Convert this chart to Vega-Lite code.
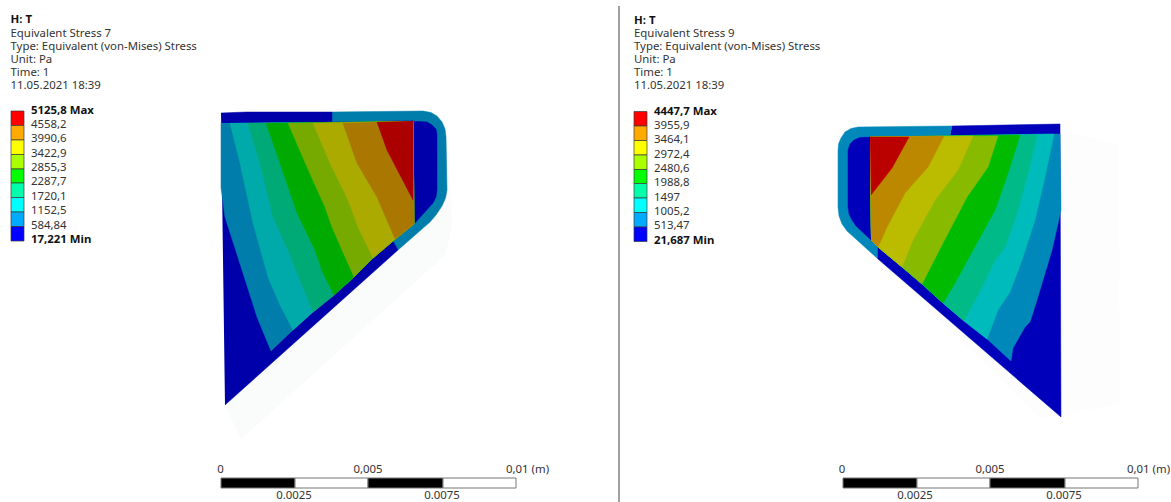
{"$schema":"https://vega.github.io/schema/vega-lite/v6.json","width":1171,"height":502,"padding":0,"autosize":{"type":"none"},"background":"white","view":{"stroke":null},
"datasets":{
"polys":[
{"p":"Lshadow","x":225,"y":405},{"p":"Lshadow","x":241,"y":439},{"p":"Lshadow","x":445,"y":255},{"p":"Lshadow","x":452,"y":225},{"p":"Lshadow","x":447,"y":135},
{"p":"Lshell","x":332,"y":112},{"p":"Lshell","x":423,"y":111},{"p":"Lshell","x":431,"y":112.5},{"p":"Lshell","x":437,"y":116},{"p":"Lshell","x":442,"y":122},{"p":"Lshell","x":445,"y":129},{"p":"Lshell","x":446,"y":137},{"p":"Lshell","x":447,"y":190},{"p":"Lshell","x":445.5,"y":198},{"p":"Lshell","x":442,"y":206},{"p":"Lshell","x":436,"y":215},{"p":"Lshell","x":430,"y":222},{"p":"Lshell","x":398,"y":250},{"p":"Lshell","x":393,"y":241},{"p":"Lshell","x":332,"y":122},
{"p":"Lpocket","x":411,"y":121},{"p":"Lpocket","x":427,"y":122},{"p":"Lpocket","x":432,"y":125},{"p":"Lpocket","x":436,"y":129},{"p":"Lpocket","x":437,"y":135},{"p":"Lpocket","x":437,"y":190},{"p":"Lpocket","x":436,"y":197},{"p":"Lpocket","x":433,"y":203},{"p":"Lpocket","x":414,"y":224},{"p":"Lpocket","x":411,"y":224},
{"p":"Lbase","x":221,"y":113},{"p":"Lbase","x":246,"y":112},{"p":"Lbase","x":332,"y":112},{"p":"Lbase","x":332,"y":122},{"p":"Lbase","x":413,"y":121},{"p":"Lbase","x":414,"y":224},{"p":"Lbase","x":393,"y":241},{"p":"Lbase","x":398,"y":250},{"p":"Lbase","x":225,"y":405},
{"p":"L0","x":221,"y":123},{"p":"L0","x":221,"y":188},{"p":"L0","x":225,"y":217},{"p":"L0","x":242,"y":270},{"p":"L0","x":257,"y":317},{"p":"L0","x":271,"y":351},{"p":"L0","x":293,"y":330},{"p":"L0","x":313,"y":312},{"p":"L0","x":334,"y":295},{"p":"L0","x":354,"y":277},{"p":"L0","x":373,"y":258},{"p":"L0","x":393,"y":241},{"p":"L0","x":414,"y":224},{"p":"L0","x":413,"y":121},
{"p":"L1","x":230,"y":123},{"p":"L1","x":240,"y":163},{"p":"L1","x":253,"y":223},{"p":"L1","x":268,"y":277},{"p":"L1","x":280,"y":305},{"p":"L1","x":293,"y":330},{"p":"L1","x":313,"y":312},{"p":"L1","x":334,"y":295},{"p":"L1","x":354,"y":277},{"p":"L1","x":373,"y":258},{"p":"L1","x":393,"y":241},{"p":"L1","x":414,"y":224},{"p":"L1","x":413,"y":121},
{"p":"L2","x":248,"y":123},{"p":"L2","x":260,"y":163},{"p":"L2","x":273,"y":217},{"p":"L2","x":288,"y":250},{"p":"L2","x":300,"y":280},{"p":"L2","x":313,"y":312},{"p":"L2","x":334,"y":295},{"p":"L2","x":354,"y":277},{"p":"L2","x":373,"y":258},{"p":"L2","x":393,"y":241},{"p":"L2","x":414,"y":224},{"p":"L2","x":413,"y":121},
{"p":"L3","x":266,"y":123},{"p":"L3","x":280,"y":163},{"p":"L3","x":297,"y":213},{"p":"L3","x":315,"y":250},{"p":"L3","x":323,"y":273},{"p":"L3","x":334,"y":295},{"p":"L3","x":354,"y":277},{"p":"L3","x":373,"y":258},{"p":"L3","x":393,"y":241},{"p":"L3","x":414,"y":224},{"p":"L3","x":413,"y":121},
{"p":"L4","x":288,"y":123},{"p":"L4","x":307,"y":167},{"p":"L4","x":325,"y":207},{"p":"L4","x":332,"y":227},{"p":"L4","x":342,"y":250},{"p":"L4","x":354,"y":277},{"p":"L4","x":373,"y":258},{"p":"L4","x":393,"y":241},{"p":"L4","x":414,"y":224},{"p":"L4","x":413,"y":121},
{"p":"L5","x":313,"y":123},{"p":"L5","x":330,"y":163},{"p":"L5","x":348,"y":200},{"p":"L5","x":358,"y":227},{"p":"L5","x":373,"y":258},{"p":"L5","x":393,"y":241},{"p":"L5","x":414,"y":224},{"p":"L5","x":413,"y":121},
{"p":"L6","x":343,"y":123},{"p":"L6","x":357,"y":163},{"p":"L6","x":377,"y":197},{"p":"L6","x":387,"y":220},{"p":"L6","x":395,"y":239},{"p":"L6","x":414,"y":224},{"p":"L6","x":413,"y":121},
{"p":"L7","x":377,"y":122},{"p":"L7","x":387,"y":150},{"p":"L7","x":413,"y":200},{"p":"L7","x":413,"y":121},
{"p":"Rshadow","x":878,"y":259},{"p":"Rshadow","x":1040,"y":418},{"p":"Rshadow","x":1120,"y":404},{"p":"Rshadow","x":1118,"y":145},{"p":"Rshadow","x":1061,"y":130},
{"p":"Rshell","x":952,"y":126},{"p":"Rshell","x":858,"y":127},{"p":"Rshell","x":851,"y":128.5},{"p":"Rshell","x":845,"y":132},{"p":"Rshell","x":841,"y":138},{"p":"Rshell","x":838.5,"y":144},{"p":"Rshell","x":838,"y":151},{"p":"Rshell","x":838,"y":207},{"p":"Rshell","x":839,"y":216},{"p":"Rshell","x":842,"y":224},{"p":"Rshell","x":847,"y":231},{"p":"Rshell","x":878,"y":259},{"p":"Rshell","x":885,"y":250},{"p":"Rshell","x":950,"y":136},
{"p":"Rpocket","x":873,"y":137},{"p":"Rpocket","x":860,"y":137.5},{"p":"Rpocket","x":854,"y":140},{"p":"Rpocket","x":850,"y":144},{"p":"Rpocket","x":848,"y":150},{"p":"Rpocket","x":848,"y":207},{"p":"Rpocket","x":849,"y":214},{"p":"Rpocket","x":852,"y":220},{"p":"Rpocket","x":856,"y":226},{"p":"Rpocket","x":871,"y":240},{"p":"Rpocket","x":873,"y":240},
{"p":"Rbase","x":952,"y":126},{"p":"Rbase","x":1060,"y":124},{"p":"Rbase","x":1061,"y":417},{"p":"Rbase","x":878,"y":259},{"p":"Rbase","x":878,"y":247},{"p":"Rbase","x":871,"y":240},{"p":"Rbase","x":870,"y":137},{"p":"Rbase","x":950,"y":136},
{"p":"R0","x":870,"y":137},{"p":"R0","x":1060,"y":134},{"p":"R0","x":1061,"y":210},{"p":"R0","x":1052,"y":250},{"p":"R0","x":1037,"y":300},{"p":"R0","x":1030,"y":322},{"p":"R0","x":1025,"y":327},{"p":"R0","x":1013,"y":348},{"p":"R0","x":1011,"y":361},{"p":"R0","x":987,"y":339},{"p":"R0","x":964,"y":321},{"p":"R0","x":943,"y":303},{"p":"R0","x":922,"y":284},{"p":"R0","x":902,"y":267},{"p":"R0","x":878,"y":247},{"p":"R0","x":871,"y":240},
{"p":"R1","x":870,"y":137},{"p":"R1","x":1054,"y":134},{"p":"R1","x":1045,"y":177},{"p":"R1","x":1035,"y":220},{"p":"R1","x":1022,"y":260},{"p":"R1","x":1010,"y":292},{"p":"R1","x":998,"y":310},{"p":"R1","x":987,"y":339},{"p":"R1","x":964,"y":321},{"p":"R1","x":943,"y":303},{"p":"R1","x":922,"y":284},{"p":"R1","x":902,"y":267},{"p":"R1","x":878,"y":247},{"p":"R1","x":871,"y":240},
{"p":"R2","x":870,"y":137},{"p":"R2","x":1037,"y":135},{"p":"R2","x":1028,"y":173},{"p":"R2","x":1017,"y":213},{"p":"R2","x":1005,"y":247},{"p":"R2","x":995,"y":260},{"p":"R2","x":982,"y":287},{"p":"R2","x":964,"y":321},{"p":"R2","x":943,"y":303},{"p":"R2","x":922,"y":284},{"p":"R2","x":902,"y":267},{"p":"R2","x":878,"y":247},{"p":"R2","x":871,"y":240},
{"p":"R3","x":870,"y":137},{"p":"R3","x":1020,"y":135},{"p":"R3","x":1008,"y":173},{"p":"R3","x":995,"y":210},{"p":"R3","x":973,"y":250},{"p":"R3","x":955,"y":283},{"p":"R3","x":943,"y":303},{"p":"R3","x":922,"y":284},{"p":"R3","x":902,"y":267},{"p":"R3","x":878,"y":247},{"p":"R3","x":871,"y":240},
{"p":"R4","x":870,"y":137},{"p":"R4","x":998,"y":136},{"p":"R4","x":988,"y":167},{"p":"R4","x":967,"y":197},{"p":"R4","x":943,"y":243},{"p":"R4","x":922,"y":284},{"p":"R4","x":902,"y":267},{"p":"R4","x":878,"y":247},{"p":"R4","x":871,"y":240},
{"p":"R5","x":870,"y":137},{"p":"R5","x":973,"y":136},{"p":"R5","x":958,"y":170},{"p":"R5","x":935,"y":200},{"p":"R5","x":913,"y":240},{"p":"R5","x":902,"y":267},{"p":"R5","x":878,"y":247},{"p":"R5","x":871,"y":240},
{"p":"R6","x":870,"y":137},{"p":"R6","x":944,"y":136},{"p":"R6","x":928,"y":167},{"p":"R6","x":905,"y":193},{"p":"R6","x":887,"y":227},{"p":"R6","x":878,"y":247},{"p":"R6","x":871,"y":240},
{"p":"R7","x":870,"y":137},{"p":"R7","x":909,"y":137},{"p":"R7","x":892,"y":168},{"p":"R7","x":871,"y":195}
],
"legend":[
{"band":"b9","x":11,"x2":24,"y":111,"y2":125.5},{"band":"b8","x":11,"x2":24,"y":125.5,"y2":140},{"band":"b7","x":11,"x2":24,"y":140,"y2":154.5},{"band":"b6","x":11,"x2":24,"y":154.5,"y2":169},{"band":"b5","x":11,"x2":24,"y":169,"y2":183},{"band":"b4","x":11,"x2":24,"y":183,"y2":197.5},{"band":"b3","x":11,"x2":24,"y":197.5,"y2":212},{"band":"b2","x":11,"x2":24,"y":212,"y2":226.5},{"band":"b1","x":11,"x2":24,"y":226.5,"y2":241},
{"band":"b9","x":634,"x2":647,"y":111.5,"y2":126},{"band":"b8","x":634,"x2":647,"y":126,"y2":140.5},{"band":"b7","x":634,"x2":647,"y":140.5,"y2":155},{"band":"b6","x":634,"x2":647,"y":155,"y2":169.5},{"band":"b5","x":634,"x2":647,"y":169.5,"y2":183.5},{"band":"b4","x":634,"x2":647,"y":183.5,"y2":198},{"band":"b3","x":634,"x2":647,"y":198,"y2":212.5},{"band":"b2","x":634,"x2":647,"y":212.5,"y2":227},{"band":"b1","x":634,"x2":647,"y":227,"y2":241.5}
],
"scalebar":[
{"seg":"black","x":221,"x2":295,"y":478,"y2":488},{"seg":"white","x":295,"x2":368,"y":478,"y2":488},{"seg":"black","x":368,"x2":443,"y":478,"y2":488},{"seg":"white","x":443,"x2":516,"y":478,"y2":488},
{"seg":"black","x":843,"x2":917,"y":478,"y2":488},{"seg":"white","x":917,"x2":990,"y":478,"y2":488},{"seg":"black","x":990,"x2":1065,"y":478,"y2":488},{"seg":"white","x":1065,"x2":1138,"y":478,"y2":488}
],
"plain":[
{"t":"Equivalent Stress 7","x":10.5,"y":33.5},{"t":"Type: Equivalent (von-Mises) Stress","x":10.5,"y":46.5},{"t":"Unit: Pa","x":10.5,"y":59.5},{"t":"Time: 1","x":10.5,"y":72.5},{"t":"11.05.2021 18:39","x":10.5,"y":85.5},
{"t":"4558,2","x":31,"y":125},{"t":"3990,6","x":31,"y":139},{"t":"3422,9","x":31,"y":154},{"t":"2855,3","x":31,"y":168},{"t":"2287,7","x":31,"y":182},{"t":"1720,1","x":31,"y":197},{"t":"1152,5","x":31,"y":211},{"t":"584,84","x":31,"y":226},
{"t":"Equivalent Stress 9","x":634,"y":34},{"t":"Type: Equivalent (von-Mises) Stress","x":634,"y":47},{"t":"Unit: Pa","x":634,"y":60},{"t":"Time: 1","x":634,"y":73},{"t":"11.05.2021 18:39","x":634,"y":86},
{"t":"3955,9","x":654,"y":126},{"t":"3464,1","x":654,"y":140},{"t":"2972,4","x":654,"y":155},{"t":"2480,6","x":654,"y":169},{"t":"1988,8","x":654,"y":183},{"t":"1497","x":654,"y":198},{"t":"1005,2","x":654,"y":212},{"t":"513,47","x":654,"y":226},
{"t":"0,01 (m)","x":506,"y":470},{"t":"0,01 (m)","x":1127,"y":470}
],
"bold":[
{"t":"H: T","x":10.5,"y":20},{"t":"5125,8 Max","x":31,"y":111},{"t":"17,221 Min","x":31,"y":240},
{"t":"H: T","x":634,"y":21},{"t":"4447,7 Max","x":654,"y":112},{"t":"21,687 Min","x":654,"y":241}
],
"centered":[
{"t":"0","x":220.5,"y":470},{"t":"0,005","x":368,"y":470},{"t":"0.0025","x":294,"y":495.5},{"t":"0.0075","x":442,"y":495.5},
{"t":"0","x":842,"y":470},{"t":"0,005","x":990,"y":470},{"t":"0.0025","x":915,"y":495.5},{"t":"0.0075","x":1064,"y":495.5}
],
"divider":[{"x":619,"y":6,"y2":502}]
},
"layer":[
{"data":{"name":"polys"},"mark":{"type":"line","order":null,"strokeWidth":0.5,"strokeJoin":"round"},
"encoding":{"x":{"field":"x","type":"quantitative","scale":{"domain":[0,1171],"nice":false,"zero":false},"axis":null},
"y":{"field":"y","type":"quantitative","scale":{"domain":[502,0],"nice":false,"zero":false},"axis":null},
"detail":{"field":"p"},
"fill":{"field":"p","type":"nominal","legend":null,"scale":{"domain":["Lshadow","Lshell","Lpocket","Lbase","L0","L1","L2","L3","L4","L5","L6","L7","Rshadow","Rshell","Rpocket","Rbase","R0","R1","R2","R3","R4","R5","R6","R7"],"range":["#fafbfb","#007daa","#0000aa","#0000aa","#007daa","#00aaaa","#00aa77","#00aa00","#77aa00","#aaaa00","#aa7700","#aa0000","#fdfdfd","#0088bb","#0000bb","#0000bb","#0088bb","#00bbbb","#00bb88","#00bb00","#88bb00","#bbbb00","#bb8800","#bb0000"]}},
"stroke":{"field":"p","type":"nominal","legend":null,"scale":{"domain":["Lshadow","Lshell","Lpocket","Lbase","L0","L1","L2","L3","L4","L5","L6","L7","Rshadow","Rshell","Rpocket","Rbase","R0","R1","R2","R3","R4","R5","R6","R7"],"range":["#fafbfb","#007daa","#0000aa","#0000aa","#007daa","#00aaaa","#00aa77","#00aa00","#77aa00","#aaaa00","#aa7700","#aa0000","#fdfdfd","#0088bb","#0000bb","#0000bb","#0088bb","#00bbbb","#00bb88","#00bb00","#88bb00","#bbbb00","#bb8800","#bb0000"]}}}},
{"data":{"name":"legend"},"mark":{"type":"rect","stroke":"#3a3a3a","strokeWidth":0.7},
"encoding":{"x":{"field":"x","type":"quantitative"},"x2":{"field":"x2"},"y":{"field":"y","type":"quantitative"},"y2":{"field":"y2"},
"color":{"field":"band","type":"nominal","legend":null,"scale":{"domain":["b1","b2","b3","b4","b5","b6","b7","b8","b9"],"range":["#0000ff","#00aaff","#00ffff","#00ffaa","#00ff00","#aaff00","#ffff00","#ffaa00","#ff0000"]}}}},
{"data":{"name":"scalebar"},"mark":{"type":"rect","stroke":"#777777","strokeWidth":1},
"encoding":{"x":{"field":"x","type":"quantitative"},"x2":{"field":"x2"},"y":{"field":"y","type":"quantitative"},"y2":{"field":"y2"},
"fill":{"field":"seg","type":"nominal","legend":null,"scale":{"domain":["black","white"],"range":["#000000","#ffffff"]}}}},
{"data":{"name":"divider"},"mark":{"type":"rule","color":"#808080","strokeWidth":1.5},
"encoding":{"x":{"field":"x","type":"quantitative"},"y":{"field":"y","type":"quantitative"},"y2":{"field":"y2"}}},
{"data":{"name":"plain"},"mark":{"type":"text","align":"left","baseline":"middle","font":"Noto Sans","fontSize":11.4,"color":"#333333"},
"encoding":{"x":{"field":"x","type":"quantitative"},"y":{"field":"y","type":"quantitative"},"text":{"field":"t"}}},
{"data":{"name":"bold"},"mark":{"type":"text","align":"left","baseline":"middle","font":"Noto Sans","fontSize":11.4,"fontWeight":"bold","color":"#111111"},
"encoding":{"x":{"field":"x","type":"quantitative"},"y":{"field":"y","type":"quantitative"},"text":{"field":"t"}}},
{"data":{"name":"centered"},"mark":{"type":"text","align":"center","baseline":"middle","font":"Noto Sans","fontSize":11.4,"color":"#333333"},
"encoding":{"x":{"field":"x","type":"quantitative"},"y":{"field":"y","type":"quantitative"},"text":{"field":"t"}}}
],
"resolve":{"scale":{"fill":"independent","color":"independent"}}
}
